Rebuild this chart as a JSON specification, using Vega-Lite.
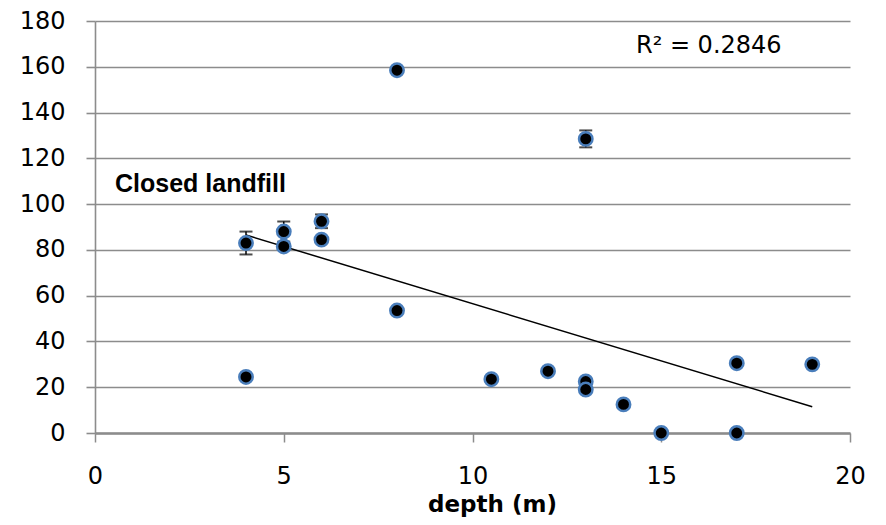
{
  "$schema": "https://vega.github.io/schema/vega-lite/v6.json",
  "width": 755,
  "height": 412,
  "autosize": {"type": "none"},
  "padding": {"left": 95, "top": 21, "right": 36, "bottom": 92},
  "background": "white",
  "config": {"view": {"stroke": null}},
  "datasets": {
    "pts": [
      {"depth": 4, "value": 83},
      {"depth": 4, "value": 24.5},
      {"depth": 5, "value": 88},
      {"depth": 5, "value": 81.5},
      {"depth": 6, "value": 92.5},
      {"depth": 6, "value": 84.5},
      {"depth": 8, "value": 158.5},
      {"depth": 8, "value": 53.5},
      {"depth": 10.5, "value": 23.5},
      {"depth": 12, "value": 27},
      {"depth": 13, "value": 128.5},
      {"depth": 13, "value": 22.5},
      {"depth": 13, "value": 19},
      {"depth": 14, "value": 12.5},
      {"depth": 15, "value": 0},
      {"depth": 17, "value": 30.5},
      {"depth": 17, "value": 0},
      {"depth": 19, "value": 30}
    ],
    "err": [
      {"depth": 4, "lo": 78, "hi": 88},
      {"depth": 5, "lo": 83.6, "hi": 92.4},
      {"depth": 6, "lo": 89.5, "hi": 95.5},
      {"depth": 13, "lo": 124.8, "hi": 132.2}
    ],
    "trend": [
      {"depth": 4, "value": 86.5},
      {"depth": 19, "value": 11.5}
    ]
  },
  "layer": [
    {
      "data": {"name": "trend"},
      "mark": {"type": "line", "color": "black", "strokeWidth": 1.5},
      "encoding": {
        "x": {
          "field": "depth", "type": "quantitative",
          "scale": {"domain": [0, 20], "nice": false, "zero": false},
          "axis": {
            "title": "depth (m)", "titleFont": "DejaVu Sans", "titleFontSize": 23, "titleFontWeight": "bold",
            "titleColor": "black", "titlePadding": 5, "titleX": 397,
            "values": [0, 5, 10, 15, 20], "grid": false, "labelFlush": false,
            "domainColor": "#8c8c8c", "domainWidth": 2.5,
            "tickColor": "#8c8c8c", "tickWidth": 1.5, "tickSize": 9,
            "labelFont": "DejaVu Sans", "labelFontSize": 24, "labelColor": "black", "labelPadding": 22
          }
        },
        "y": {
          "field": "value", "type": "quantitative",
          "scale": {"domain": [0, 180], "nice": false},
          "axis": {
            "title": null,
            "values": [0, 20, 40, 60, 80, 100, 120, 140, 160, 180],
            "grid": true, "gridColor": "#8c8c8c", "gridWidth": 1.6,
            "domainColor": "#8c8c8c", "domainWidth": 1.6,
            "tickColor": "#8c8c8c", "tickWidth": 1.6, "tickSize": 9,
            "labelFont": "DejaVu Sans", "labelFontSize": 24, "labelColor": "black", "labelPadding": 21
          }
        }
      }
    },
    {
      "data": {"name": "err"},
      "mark": {"type": "rule", "color": "black", "strokeWidth": 1.5},
      "encoding": {
        "x": {"field": "depth", "type": "quantitative"},
        "y": {"field": "lo", "type": "quantitative"},
        "y2": {"field": "hi"}
      }
    },
    {
      "data": {"name": "err"},
      "mark": {"type": "tick", "color": "black", "thickness": 2, "size": 13, "orient": "horizontal"},
      "encoding": {
        "x": {"field": "depth", "type": "quantitative"},
        "y": {"field": "lo", "type": "quantitative"}
      }
    },
    {
      "data": {"name": "err"},
      "mark": {"type": "tick", "color": "black", "thickness": 2, "size": 13, "orient": "horizontal"},
      "encoding": {
        "x": {"field": "depth", "type": "quantitative"},
        "y": {"field": "hi", "type": "quantitative"}
      }
    },
    {
      "data": {"name": "pts"},
      "mark": {"type": "point", "shape": "circle", "filled": false, "fill": "black", "fillOpacity": 1, "stroke": "#4a7ebb", "strokeWidth": 2.5, "size": 180, "opacity": 1},
      "encoding": {
        "x": {"field": "depth", "type": "quantitative"},
        "y": {"field": "value", "type": "quantitative"}
      }
    },
    {
      "data": {"values": [{"label": "Closed landfill"}]},
      "mark": {"type": "text", "font": "Liberation Sans", "fontSize": 25, "fontWeight": "bold", "align": "left", "baseline": "middle", "color": "black"},
      "encoding": {
        "x": {"datum": 0.53, "type": "quantitative"},
        "y": {"datum": 109, "type": "quantitative"},
        "text": {"field": "label"}
      }
    },
    {
      "data": {"values": [{"label": "R² = 0.2846"}]},
      "mark": {"type": "text", "font": "DejaVu Sans", "fontSize": 24, "align": "left", "baseline": "middle", "color": "black"},
      "encoding": {
        "x": {"datum": 14.33, "type": "quantitative"},
        "y": {"datum": 169, "type": "quantitative"},
        "text": {"field": "label"}
      }
    }
  ]
}
